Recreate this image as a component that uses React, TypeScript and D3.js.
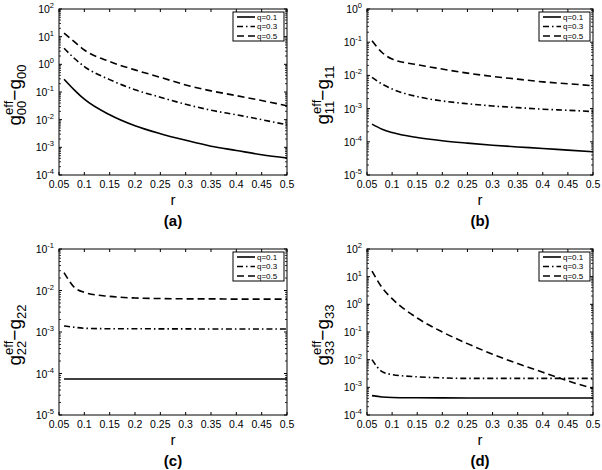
import React from "react";
import * as d3 from "d3";

// ---- data ----
const rGrid = [0.06, 0.08, 0.1, 0.15, 0.2, 0.25, 0.3, 0.35, 0.4, 0.45, 0.5];
const qLabels = ["q=0.1", "q=0.3", "q=0.5"];
const xTicks = [0.05, 0.1, 0.15, 0.2, 0.25, 0.3, 0.35, 0.4, 0.45, 0.5];

const g00_q1 = [0.29, 0.12, 0.055, 0.015, 0.006, 0.0031, 0.0018, 0.0011, 0.00077, 0.00054, 0.00041];
const g00_q3 = [3.8, 1.66, 0.83, 0.28, 0.12, 0.065, 0.036, 0.022, 0.015, 0.01, 0.0065];
const g00_q5 = [13.5, 6.6, 3.3, 1.26, 0.63, 0.34, 0.18, 0.11, 0.074, 0.049, 0.032];

const g11_q1 = [0.00034, 0.00024, 0.00019, 0.000134, 0.000107, 0.000091, 0.000079, 0.00007, 0.000063, 0.000056, 0.00005];
const g11_q3 = [0.0087, 0.0055, 0.0039, 0.0023, 0.0017, 0.0014, 0.0012, 0.00107, 0.00096, 0.00089, 0.00081];
const g11_q5 = [0.11, 0.049, 0.031, 0.021, 0.0155, 0.0117, 0.0093, 0.0077, 0.0064, 0.0056, 0.0049];

const g22_q1 = [7.4e-5, 7.4e-5, 7.4e-5, 7.4e-5, 7.4e-5, 7.4e-5, 7.4e-5, 7.4e-5, 7.4e-5, 7.4e-5, 7.4e-5];
const g22_q3 = [0.0014, 0.0013, 0.00123, 0.0012, 0.0012, 0.00119, 0.00119, 0.00118, 0.00118, 0.00118, 0.00118];
const g22_q5 = [0.027, 0.012, 0.009, 0.0072, 0.0066, 0.0064, 0.0063, 0.0063, 0.0062, 0.0062, 0.0062];

const g33_q1 = [5e-4, 4.5e-4, 4.3e-4, 4.2e-4, 4.15e-4, 4.1e-4, 4.1e-4, 4.1e-4, 4.1e-4, 4.1e-4, 4.1e-4];
const g33_q3 = [0.01, 0.0037, 0.0029, 0.0024, 0.0022, 0.0021, 0.0021, 0.0021, 0.0021, 0.0021, 0.0021];
const g33_q5 = [16, 4, 1.6, 0.32, 0.1, 0.038, 0.0158, 0.0072, 0.0035, 0.0017, 0.00091];

const panelTags = ["(a)", "(b)", "(c)", "(d)"];
const panelSubs = ["00", "11", "22", "33"];
const panelExp = [[-4, 2], [-5, 0], [-5, -1], [-4, 2]];
const panelSeries = [
  [g00_q1, g00_q3, g00_q5],
  [g11_q1, g11_q3, g11_q5],
  [g22_q1, g22_q3, g22_q5],
  [g33_q1, g33_q3, g33_q5],
];

// ---- layout ----
const boxes = [
  { x0: 59, x1: 287, y0: 9, y1: 175 },
  { x0: 367, x1: 593, y0: 9, y1: 175 },
  { x0: 59, x1: 287, y0: 249, y1: 415 },
  { x0: 367, x1: 593, y0: 249, y1: 415 },
];
const dashes = [null, "6,3,1.5,3", "7,4"];
const FONT = "'Liberation Sans', Arial, Helvetica, sans-serif";

function Panel({ idx }: { idx: number }) {
  const b = boxes[idx];
  const [elo, ehi] = panelExp[idx];
  const x = d3.scaleLinear().domain([0.05, 0.5]).range([b.x0, b.x1]);
  const y = d3.scaleLog().domain([Math.pow(10, elo), Math.pow(10, ehi)]).range([b.y1, b.y0]);
  const line = d3
    .line<[number, number]>()
    .x((d) => x(d[0]))
    .y((d) => y(d[1]))
    .curve(d3.curveMonotoneX);
  const decades = d3.range(elo, ehi + 1);
  const minors: number[] = [];
  for (let k = elo; k < ehi; k++) for (let m = 2; m <= 9; m++) minors.push(m * Math.pow(10, k));
  const cx = (b.x0 + b.x1) / 2;
  const cy = (b.y0 + b.y1) / 2;
  const lgR = b.x1 - 3;
  const lgL = lgR - 51;
  const lgT = b.y0 + 3;
  const sub = panelSubs[idx];
  return (
    <g>
      {panelSeries[idx].map((vals, i) => (
        <path
          key={i}
          d={line(rGrid.map((r, j) => [r, vals[j]] as [number, number])) || ""}
          fill="none"
          stroke="#000"
          strokeWidth={1.6}
          strokeDasharray={dashes[i] || undefined}
        />
      ))}
      <rect x={b.x0} y={b.y0} width={b.x1 - b.x0} height={b.y1 - b.y0} fill="none" stroke="#000" strokeWidth={1} />
      {xTicks.map((t) => (
        <g key={t}>
          <line x1={x(t)} x2={x(t)} y1={b.y1} y2={b.y1 - 3} stroke="#000" />
          <line x1={x(t)} x2={x(t)} y1={b.y0} y2={b.y0 + 3} stroke="#000" />
          <text x={x(t)} y={b.y1 + 13} fontSize={10.5} textAnchor="middle" fontFamily={FONT}>
            {String(t)}
          </text>
        </g>
      ))}
      {decades.map((k) => (
        <g key={k}>
          <line x1={b.x0} x2={b.x0 + 3} y1={y(Math.pow(10, k))} y2={y(Math.pow(10, k))} stroke="#000" />
          <line x1={b.x1} x2={b.x1 - 3} y1={y(Math.pow(10, k))} y2={y(Math.pow(10, k))} stroke="#000" />
          <text x={b.x0 - 5} y={y(Math.pow(10, k)) + 4} fontSize={10.5} textAnchor="end" fontFamily={FONT}>
            10
            <tspan fontSize={7.5} dy={-5}>
              {String(k)}
            </tspan>
          </text>
        </g>
      ))}
      {minors.map((v, i) => (
        <g key={i}>
          <line x1={b.x0} x2={b.x0 + 2} y1={y(v)} y2={y(v)} stroke="#000" strokeWidth={0.8} />
          <line x1={b.x1} x2={b.x1 - 2} y1={y(v)} y2={y(v)} stroke="#000" strokeWidth={0.8} />
        </g>
      ))}
      <text x={cx} y={b.y1 + 30} fontSize={15} textAnchor="middle" fontFamily={FONT}>
        r
      </text>
      <text x={cx} y={b.y1 + 51} fontSize={15} fontWeight="bold" textAnchor="middle" fontFamily={FONT}>
        {panelTags[idx]}
      </text>
      <g transform={`translate(${b.x0 - 38},${cy + 3}) rotate(-90)`}>
        <text x={0} y={0} fontSize={19} textAnchor="middle" fontFamily={FONT}>
          g
          <tspan fontSize={13} dy={-8}>eff</tspan>
          <tspan fontSize={13} dx={-14.5} dy={13}>{sub}</tspan>
          <tspan dy={-5}>{"\u2212g"}</tspan>
          <tspan fontSize={13} dy={5}>{sub}</tspan>
        </text>
      </g>
      <rect x={lgL} y={lgT} width={51} height={29} fill="#fff" stroke="#000" strokeWidth={1} />
      {qLabels.map((q, i) => {
        const yy = lgT + 5 + i * 9.5;
        return (
          <g key={q}>
            <line x1={lgL + 4} x2={lgL + 22} y1={yy} y2={yy} stroke="#000" strokeWidth={1.6} strokeDasharray={dashes[i] || undefined} />
            <text x={lgL + 24} y={yy + 2.8} fontSize={8} fontFamily={FONT}>
              {q}
            </text>
          </g>
        );
      })}
    </g>
  );
}

export default function App() {
  return (
    <svg width={602} height={470} style={{ position: "absolute", left: 0, top: 0, background: "#fff" }}>
      <rect width={602} height={470} fill="#fff" />
      {boxes.map((_, i) => (
        <Panel key={i} idx={i} />
      ))}
    </svg>
  );
}
